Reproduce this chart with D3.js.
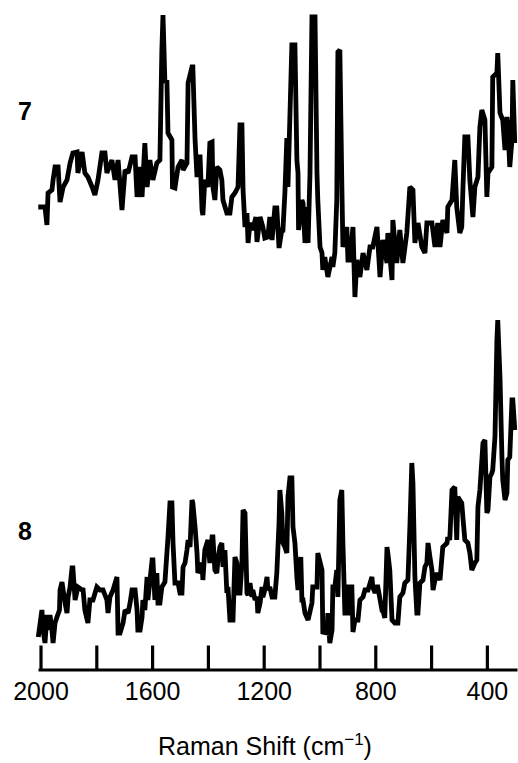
<!DOCTYPE html>
<html>
<head>
<meta charset="utf-8">
<script src="https://cdn.jsdelivr.net/npm/d3@7"></script>
<style>
  body { margin: 0; background: #fff; }
  svg { display: block; font-family: Arial, "Liberation Sans", sans-serif; }
</style>
</head>
<body>
<div id="chart"></div>
<script>
'use strict';

// Raman shift (cm-1) vs intensity (a.u.)
var spectrum7 = [
  [2008,93],[1984,93],[1977,75],[1973,107],[1959,110],[1955,120],[1948,133],[1937,133],[1930,98],
  [1919,113],[1905,120],[1894,137],[1884,147],[1869,148],[1866,127],[1851,148],[1841,127],[1830,123],
  [1815,113],[1805,105],[1794,120],[1780,147],[1769,147],[1762,127],[1744,140],[1733,120],[1722,140],
  [1708,90],[1697,130],[1686,127],[1672,143],[1661,143],[1654,103],[1643,133],[1636,103],[1626,157],
  [1618,113],[1608,140],[1597,120],[1583,137],[1572,140],[1565,250],[1561,285],[1554,217],[1547,220],
  [1543,167],[1529,160],[1527,113],[1518,112],[1507,133],[1493,140],[1489,130],[1475,137],[1471,217],
  [1457,233],[1454,233],[1446,160],[1439,123],[1436,143],[1428,143],[1421,90],[1418,85],[1411,120],
  [1400,113],[1393,157],[1385,158],[1382,113],[1375,100],[1368,133],[1357,130],[1350,120],[1346,100],
  [1332,87],[1321,87],[1314,103],[1303,107],[1292,113],[1285,175],[1278,175],[1274,110],[1267,73],
  [1260,87],[1256,57],[1249,77],[1239,70],[1228,83],[1224,58],[1213,83],[1203,73],[1196,62],[1185,63],
  [1178,83],[1170,60],[1160,92],[1153,92],[1145,52],[1135,70],[1131,70],[1124,107],[1117,162],
  [1113,113],[1099,255],[1088,255],[1081,140],[1077,127],[1075,70],[1063,100],[1059,97],[1052,57],
  [1045,93],[1041,57],[1034,127],[1027,283],[1016,283],[1009,127],[1006,100],[998,53],[991,47],
  [988,30],[981,43],[970,23],[955,43],[952,33],[945,47],[938,100],[934,248],[927,250],[920,117],
  [916,53],[902,73],[898,40],[891,40],[880,73],[873,3],[866,40],[855,23],[844,47],[830,30],[819,53],
  [809,53],[794,73],[783,23],[773,60],[758,37],[755,67],[740,20],[737,80],[723,37],[712,70],[701,37],
  [687,67],[676,113],[665,110],[658,57],[647,77],[633,53],[622,47],[615,77],[597,77],[586,53],[576,77],
  [568,53],[558,80],[543,67],[540,93],[525,100],[515,140],[508,93],[497,67],[490,73],[486,110],
  [479,163],[468,163],[461,120],[450,83],[443,113],[432,123],[425,173],[418,190],[407,180],[400,103],
  [396,127],[382,133],[379,223],[364,227],[361,247],[353,187],[343,180],[335,150],[328,183],[325,177],
  [318,133],[310,160],[307,220],[300,157]
];

var spectrum8 = [
  [2008,13],[1995,40],[1991,20],[1984,7],[1977,35],[1973,20],[1966,35],[1959,20],[1955,7],[1948,27],
  [1941,33],[1932,40],[1930,60],[1923,68],[1912,47],[1905,37],[1901,53],[1894,63],[1887,82],[1884,82],
  [1876,50],[1866,63],[1851,60],[1848,62],[1841,40],[1830,27],[1823,50],[1812,50],[1798,63],[1787,60],
  [1776,60],[1762,50],[1758,37],[1751,53],[1740,60],[1726,73],[1722,17],[1715,17],[1704,27],[1697,40],
  [1686,37],[1679,47],[1672,60],[1661,60],[1654,40],[1651,20],[1643,20],[1636,33],[1633,50],[1626,40],
  [1618,73],[1615,50],[1600,90],[1597,90],[1590,50],[1583,77],[1579,47],[1572,47],[1565,63],[1554,68],
  [1543,113],[1536,147],[1529,147],[1525,107],[1518,67],[1507,67],[1500,57],[1493,57],[1489,83],
  [1482,87],[1475,100],[1471,110],[1464,103],[1457,150],[1454,147],[1446,123],[1439,97],[1436,77],
  [1421,87],[1418,70],[1411,100],[1400,110],[1393,87],[1385,113],[1382,113],[1375,80],[1368,77],
  [1364,90],[1357,103],[1350,107],[1346,83],[1339,100],[1332,57],[1328,63],[1321,30],[1310,30],
  [1303,93],[1296,87],[1292,57],[1285,57],[1278,87],[1274,140],[1267,137],[1260,57],[1256,55],
  [1249,67],[1242,53],[1239,60],[1231,50],[1224,53],[1221,37],[1213,47],[1206,63],[1203,53],[1196,60],
  [1188,73],[1185,60],[1178,63],[1170,53],[1160,53],[1153,77],[1145,127],[1142,160],[1135,137],
  [1131,107],[1124,103],[1117,97],[1113,153],[1106,172],[1099,172],[1095,123],[1088,107],[1081,73],
  [1077,60],[1067,93],[1063,50],[1059,50],[1052,37],[1041,30],[1027,47],[1024,63],[1009,63],[1006,97],
  [991,80],[988,18],[973,17],[970,37],[963,7],[955,20],[952,63],[945,63],[938,80],[934,53],[927,150],
  [920,160],[916,107],[909,37],[898,37],[895,63],[884,63],[880,18],[873,30],[862,30],[855,50],[844,53],
  [837,60],[826,60],[812,73],[809,63],[801,57],[794,63],[791,63],[776,40],[773,40],[766,32],[758,103],
  [755,97],[748,80],[740,30],[730,27],[719,27],[712,53],[701,57],[694,67],[683,70],[676,123],[669,187],
  [665,167],[658,73],[651,37],[647,37],[640,67],[629,70],[622,83],[615,87],[611,107],[604,93],[597,80],
  [593,60],[586,70],[579,77],[568,70],[561,93],[558,103],[543,107],[540,113],[533,110],[525,160],
  [515,163],[508,110],[504,153],[490,147],[486,133],[479,110],[468,107],[461,97],[454,80],[443,87],
  [436,90],[432,143],[425,160],[414,207],[407,210],[400,137],[396,140],[389,173],[382,177],[379,180],
  [371,213],[364,310],[361,330],[353,273],[346,193],[343,170],[335,150],[328,157],[325,190],[318,193],
  [310,250],[307,250],[300,220]
];

var spectrumLabels = ['7', '8'];
var tickValues = [2000, 1800, 1600, 1400, 1200, 1000, 800, 600, 400];
var labeledTicks = [2000, 1600, 1200, 800, 400];
var xDomain = [2009, 292];

var width = 518, height = 763;
var axisY = 669.5;

var svg = d3.select('#chart').append('svg')
    .attr('width', width)
    .attr('height', height);

var x = d3.scaleLinear().domain(xDomain).range([38, 517]);

// each trace gets its own stacked intensity scale
var yTop = d3.scaleLinear().domain([0, 300]).range([300, 0]);
var yBottom = d3.scaleLinear().domain([0, 340]).range([650, 310]);

function drawTrace(data, y) {
    var line = d3.line()
        .x(function(d) { return x(d[0]); })
        .y(function(d) { return y(d[1]); });
    svg.append('path')
        .datum(data)
        .attr('d', line)
        .attr('fill', 'none')
        .attr('stroke', '#000')
        .attr('stroke-width', 4.8)
        .attr('stroke-linejoin', 'miter')
        .attr('stroke-miterlimit', 2);
}

drawTrace(spectrum7, yTop);
drawTrace(spectrum8, yBottom);

svg.selectAll('text.trace-label')
    .data(spectrumLabels)
    .enter()
    .append('text')
    .attr('class', 'trace-label')
    .attr('x', 18)
    .attr('y', function(d, i) { return i === 0 ? 120 : 540; })
    .attr('font-size', 25)
    .attr('font-weight', 'bold')
    .text(function(d) { return d; });

var axis = d3.axisBottom(x)
    .tickValues(tickValues)
    .tickSizeInner(-24)
    .tickSizeOuter(0)
    .tickPadding(13)
    .tickFormat(function(d) { return labeledTicks.indexOf(d) >= 0 ? d : ''; });

var gAxis = svg.append('g')
    .attr('transform', 'translate(0,' + axisY + ')')
    .call(axis);

gAxis.select('.domain')
    .attr('stroke', '#000')
    .attr('stroke-width', 3.2);
gAxis.selectAll('.tick line')
    .attr('stroke', '#000')
    .attr('stroke-width', 3.2);
gAxis.selectAll('.tick text')
    .attr('fill', '#000')
    .attr('font-size', 25)
    .attr('font-family', 'Arial, "Liberation Sans", sans-serif');

var title = svg.append('text')
    .attr('x', 265)
    .attr('y', 755)
    .attr('text-anchor', 'middle')
    .attr('font-size', 25)
    .attr('fill', '#000');
title.append('tspan').text('Raman Shift (cm');
title.append('tspan').attr('dy', -10).attr('font-size', 17).text('\u22121');
title.append('tspan').attr('dy', 10).text(')');
</script>
</body>
</html>
